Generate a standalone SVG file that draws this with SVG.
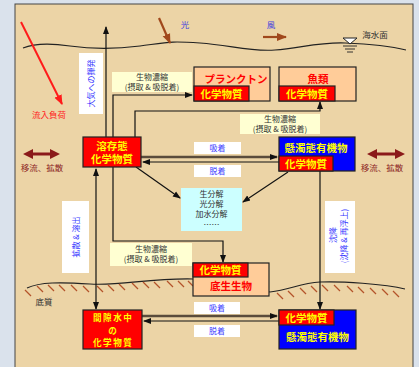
<svg xmlns="http://www.w3.org/2000/svg" width="419" height="367" viewBox="0 0 419 367">
<defs>
<style>
text{font-family:"Noto Sans CJK JP","Noto Sans",sans-serif;}
.bx{font-size:10.5px;font-weight:bold;text-anchor:middle;}
.yl{fill:#ffff00;}
.rd{fill:#ff0000;}
.lb{font-size:8px;fill:#333;text-anchor:middle;}
.bl{font-size:8px;fill:#3a3aff;text-anchor:middle;}
.rb{fill:#ff0000;stroke:#222;stroke-width:1.2;}
.pb{fill:#ffcc99;stroke:#222;stroke-width:1.2;}
.ub{fill:#0000ff;stroke:#222;stroke-width:1.2;}
.yb{fill:#ffffd2;}
.wb{fill:#ffffff;}
.cn{fill:none;stroke:#111;stroke-width:1.2;}
.cth{fill:none;stroke:#5a4c3c;stroke-width:2.4;}
.hat{stroke:#b4532a;stroke-width:1.2;}
.dr{fill:#8b1a1a;}
.drt{font-size:8.5px;fill:#8b2323;text-anchor:middle;}
.pw{font-size:8.6px;letter-spacing:1.5px;}
</style>
<marker id="ah" markerWidth="8" markerHeight="8" refX="7" refY="4" orient="auto-start-reverse" markerUnits="userSpaceOnUse"><path d="M0,1 L8,4 L0,7 z" fill="#111"/></marker>
<marker id="ahr" markerWidth="10" markerHeight="10" refX="9" refY="5" orient="auto" markerUnits="userSpaceOnUse"><path d="M0,1 L10,5 L0,9 z" fill="#ff1a1a"/></marker>
<marker id="ahb" markerWidth="10" markerHeight="10" refX="9" refY="5" orient="auto" markerUnits="userSpaceOnUse"><path d="M0,1 L10,5 L0,9 z" fill="#a0481c"/></marker>
</defs>

<rect x="0" y="0" width="419" height="367" fill="#dae2ec"/>
<rect x="15" y="4" width="398" height="370" fill="#ecd4a6" stroke="#444" stroke-width="1"/>

<g id="environment">
<path d="M23,48 C35,43 50,43 70,46 S110,50 140,46 S170,41 200,43 S250,52 275,50 S320,42 345,43 S390,46 406,50" fill="none" stroke="#222" stroke-width="1.2"/>
<path d="M343,38 L357,38 L350,44 z" fill="#fff" stroke="#222" stroke-width="1"/>
<line x1="343" y1="46" x2="357" y2="46" stroke="#222" stroke-width="0.9"/>
<line x1="345" y1="49" x2="355" y2="49" stroke="#222" stroke-width="0.9"/>
<line x1="347" y1="52" x2="353" y2="52" stroke="#222" stroke-width="0.9"/>
<text x="375" y="38" font-size="8.5" fill="#333" text-anchor="middle">海水面</text>
<text x="185" y="28" font-size="8.5" fill="#4040e0" text-anchor="middle">光</text>
<text x="271" y="28" font-size="8.5" fill="#4040e0" text-anchor="middle">風</text>
<line x1="159" y1="18" x2="170" y2="43" stroke="#a0481c" stroke-width="2.2" marker-end="url(#ahb)"/>
<line x1="263" y1="37" x2="286" y2="37" stroke="#a0481c" stroke-width="2.2" marker-end="url(#ahb)"/>
<line x1="21" y1="22" x2="62" y2="104" stroke="#ff1a1a" stroke-width="2" marker-end="url(#ahr)"/>
<text x="49" y="118" font-size="8.5" fill="#ff2020" text-anchor="middle">流入負荷</text>
<path d="M27,288 C40,282 60,282 90,284 S150,278 193,279 L270,292 C290,290 300,283 320,282 S385,284 405,289" fill="none" stroke="#222" stroke-width="1.2"/>
<g class="hat">
<line x1="25" y1="290" x2="31" y2="296"/><line x1="37" y1="286" x2="43" y2="292"/><line x1="48" y1="285" x2="54" y2="291"/><line x1="59" y1="285" x2="65" y2="291"/><line x1="71" y1="285" x2="77" y2="291"/><line x1="83" y1="286" x2="89" y2="292"/><line x1="97" y1="286" x2="103" y2="292"/><line x1="108" y1="285" x2="114" y2="291"/><line x1="119" y1="284" x2="125" y2="290"/><line x1="132" y1="283" x2="138" y2="289"/><line x1="143" y1="282" x2="149" y2="288"/><line x1="154" y1="282" x2="160" y2="288"/><line x1="167" y1="281" x2="173" y2="287"/><line x1="178" y1="281" x2="184" y2="287"/><line x1="188" y1="281" x2="193" y2="286"/>
<line x1="277" y1="293" x2="283" y2="299"/><line x1="288" y1="291" x2="294" y2="297"/><line x1="300" y1="288" x2="306" y2="294"/><line x1="311" y1="286" x2="317" y2="292"/><line x1="322" y1="285" x2="328" y2="291"/><line x1="334" y1="285" x2="340" y2="291"/><line x1="347" y1="286" x2="353" y2="292"/><line x1="358" y1="287" x2="364" y2="293"/><line x1="370" y1="288" x2="376" y2="294"/><line x1="382" y1="289" x2="388" y2="295"/><line x1="393" y1="291" x2="399" y2="297"/>
</g>
<text x="44" y="305" font-size="8.5" fill="#333" text-anchor="middle">底質</text>
<path class="dr" d="M23,154 L33,149 L33,152.5 L50,152.5 L50,149 L60,154 L50,159 L50,155.5 L33,155.5 L33,159 z"/>
<text class="drt" x="42" y="171">移流、拡散</text>
<path class="dr" d="M367,154 L377,149 L377,152.5 L395,152.5 L395,149 L405,154 L395,159 L395,155.5 L377,155.5 L377,159 z"/>
<text class="drt" x="382" y="171">移流、拡散</text>
</g>

<g id="connectors">
<line class="cn" x1="106" y1="137" x2="106" y2="27" marker-end="url(#ah)"/>
<path class="cn" d="M113,137 L113,95 L192,95" marker-end="url(#ah)"/>
<path class="cn" d="M135,137 L135,111 L320,111 L320,102" marker-end="url(#ah)"/>
<line class="cth" x1="141" y1="157" x2="277" y2="157" marker-end="url(#ah)"/>
<line class="cn" x1="279" y1="162" x2="143" y2="162" marker-end="url(#ah)"/>
<line class="cn" x1="136" y1="167" x2="180" y2="198" marker-end="url(#ah)"/>
<line class="cn" x1="288" y1="172" x2="243" y2="202" marker-end="url(#ah)"/>
<line class="cn" x1="320" y1="171" x2="320" y2="309" marker-end="url(#ah)"/>
<path class="cn" d="M113,167 L113,241 L223,241 L223,262" marker-end="url(#ah)"/>
<line class="cn" x1="96" y1="169" x2="96" y2="309" marker-start="url(#ah)" marker-end="url(#ah)"/>
<line class="cth" x1="142" y1="316" x2="277" y2="316" marker-end="url(#ah)"/>
<line class="cn" x1="279" y1="321" x2="144" y2="321" marker-end="url(#ah)"/>
</g>

<g id="label-volatilization">
<rect class="wb" x="79" y="53" width="24" height="61"/>
<text class="bl" transform="translate(91,83.5) rotate(-90)" y="3">大気への揮発</text>
</g>
<g id="label-diffusion">
<rect class="wb" x="62" y="201" width="27" height="72"/>
<text class="bl" transform="translate(75.5,237) rotate(-90)" y="3">拡散 &amp; 溶出</text>
</g>
<g id="label-settling">
<rect class="wb" x="325" y="201" width="30" height="72"/>
<text class="bl" transform="translate(333,235) rotate(-90)" y="3">沈降</text>
<text class="bl" transform="translate(344,236) rotate(-90)" y="3">(沈降 &amp; 再浮上)</text>
</g>

<g id="label-bioconc-1">
<rect class="yb" x="112" y="72" width="80" height="20"/>
<text class="lb" x="152" y="80">生物濃縮</text>
<text class="lb" x="152" y="90">(摂取 &amp; 吸脱着)</text>
</g>
<g id="label-bioconc-2">
<rect class="yb" x="240" y="114" width="80" height="20"/>
<text class="lb" x="280" y="122">生物濃縮</text>
<text class="lb" x="280" y="132">(摂取 &amp; 吸脱着)</text>
</g>
<g id="label-bioconc-3">
<rect class="yb" x="110" y="243" width="82" height="23"/>
<text class="lb" x="151" y="252">生物濃縮</text>
<text class="lb" x="151" y="262">(摂取 &amp; 吸脱着)</text>
</g>
<g id="label-adsorb-1">
<rect class="wb" x="194" y="142" width="47" height="12"/>
<text class="bl" x="217.5" y="151">吸着</text>
</g>
<g id="label-desorb-1">
<rect class="wb" x="194" y="165" width="47" height="12"/>
<text class="bl" x="217.5" y="174">脱着</text>
</g>
<g id="label-adsorb-2">
<rect class="wb" x="194" y="302" width="46" height="12"/>
<text class="bl" x="217" y="311">吸着</text>
</g>
<g id="label-desorb-2">
<rect class="wb" x="194" y="325" width="46" height="12"/>
<text class="bl" x="217" y="334">脱着</text>
</g>

<g id="node-plankton">
<rect class="pb" x="194" y="67" width="76" height="34"/>
<text class="bx rd" x="236" y="83">プランクトン</text>
<rect class="rb" x="194" y="86" width="55" height="15"/>
<text class="bx yl" x="221.5" y="97.5">化学物質</text>
</g>
<g id="node-fish">
<rect class="pb" x="279" y="67" width="77" height="34"/>
<text class="bx rd" x="318" y="83">魚類</text>
<rect class="rb" x="279" y="86" width="56" height="15"/>
<text class="bx yl" x="307" y="97.5">化学物質</text>
</g>
<g id="node-dissolved">
<rect class="rb" x="83" y="137" width="58" height="30"/>
<text class="bx yl" x="112" y="149.5" font-size="10">溶存態</text>
<text class="bx yl" x="112" y="163" font-size="10">化学物質</text>
</g>
<g id="node-suspended">
<rect class="ub" x="279" y="137" width="76" height="34"/>
<text class="bx yl" x="316" y="152">懸濁態有機物</text>
<rect class="rb" x="279" y="156" width="54" height="15"/>
<text class="bx yl" x="306" y="167.5">化学物質</text>
</g>
<g id="node-degradation">
<rect x="181" y="188" width="61" height="43" fill="#ccffff"/>
<text class="lb" x="211.5" y="197">生分解</text>
<text class="lb" x="211.5" y="207">光分解</text>
<text class="lb" x="211.5" y="217">加水分解</text>
<text class="lb" x="211.5" y="227.5">……</text>
</g>
<g id="node-benthos">
<rect class="pb" x="193" y="263" width="76" height="33"/>
<rect class="rb" x="193" y="263" width="55" height="14"/>
<text class="bx yl" x="220.5" y="274">化学物質</text>
<text class="bx rd" x="231" y="290">底生生物</text>
</g>
<g id="node-porewater">
<rect class="rb" x="83" y="310" width="59" height="39"/>
<text class="bx yl pw" x="113.2" y="321">間隙水中</text>
<text class="bx yl pw" x="113.2" y="333.5">の</text>
<text class="bx yl pw" x="113.2" y="346">化学物質</text>
</g>
<g id="node-sediment-organic">
<rect class="ub" x="279" y="310" width="77" height="39"/>
<rect class="rb" x="279" y="310" width="55" height="15"/>
<text class="bx yl" x="306.5" y="321.5">化学物質</text>
<text class="bx yl" x="317.5" y="341">懸濁態有機物</text>
</g>
</svg>
